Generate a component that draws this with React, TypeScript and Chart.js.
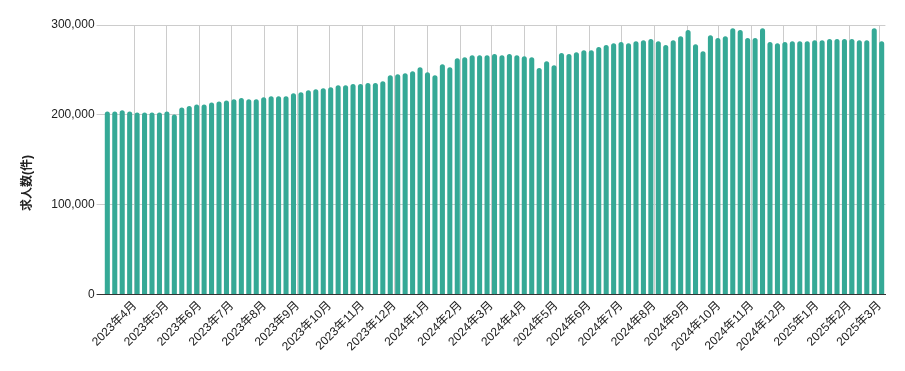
import React, { useEffect, useRef } from 'react';
import { Chart, registerables } from 'chart.js';

Chart.register(...registerables);

// First weekly observation (a Monday); one bar per week.
const START_YEAR = 2023;
const START_MONTH = 3;
const START_DAY = 6;
const WEEK_DAYS = 7;

// Weekly job-posting counts (件).
const jobCounts: number[] = [
  203700, 203700, 205200, 203700, 202600, 202600, 202600, 202600, 203700, 200400,
  208200, 209700, 211500, 211500, 213700, 214800, 216000, 217400, 218600, 217400,
  217400, 219700, 220800, 220800, 220800, 224100, 225200, 227500, 228600, 229700,
  230800, 233000, 233000, 234200, 234200, 235300, 235300, 237500, 244200, 245300,
  246400, 248600, 253100, 247500, 244200, 256400, 253100, 263100, 264200, 266400,
  266400, 266400, 267600, 266400, 267600, 266400, 265300, 264200, 252000, 259700,
  255300, 268700, 267600, 269800, 272000, 272000, 275400, 277600, 279800, 281000,
  279800, 282000, 283100, 284300, 282000, 277600, 283100, 287600, 294300, 278700,
  270900, 288700, 285400, 287600, 296500, 294300, 285400, 285400, 296500, 281000,
  279800, 281000, 282000, 282000, 282000, 283100, 283100, 284300, 284300, 284300,
  284300, 283100, 283100, 296500, 282000,
];

// Month ticks on the x axis: [year, month]
const monthTicks: [number, number][] = [
  [2023, 4], [2023, 5], [2023, 6], [2023, 7], [2023, 8], [2023, 9],
  [2023, 10], [2023, 11], [2023, 12], [2024, 1], [2024, 2], [2024, 3],
  [2024, 4], [2024, 5], [2024, 6], [2024, 7], [2024, 8], [2024, 9],
  [2024, 10], [2024, 11], [2024, 12], [2025, 1], [2025, 2], [2025, 3],
];
const monthLabels: string[] = monthTicks.map(([y, m]) => `${y}年${m}月`);

const yTicks: number[] = [0, 100000, 200000, 300000];
const yMax = 300000;
const yTitle = '求人数(件)';

const BAR_COLOR = '#35a996';
const GRID_COLOR = '#cccccc';
const AXIS_COLOR = '#333333';
const TEXT_COLOR = '#222222';
const FONT_FAMILY = "'Liberation Sans', Arial, 'Noto Sans CJK JP', sans-serif";

const DAY_MS = 86400000;
const startMs = Date.UTC(START_YEAR, START_MONTH - 1, START_DAY);
const monthDays = monthTicks.map(([y, m]) => (Date.UTC(y, m - 1, 1) - startMs) / DAY_MS);
const points = jobCounts.map((v, i) => ({ x: i * WEEK_DAYS, y: v }));

const yTitlePlugin = {
  id: 'yTitleCentered',
  afterDraw(chart: any) {
    const ctx = chart.ctx;
    ctx.save();
    ctx.translate(28, chart.height / 2 - 2.5);
    ctx.rotate(-Math.PI / 2);
    ctx.font = `bold 12px ${FONT_FAMILY}`;
    ctx.fillStyle = TEXT_COLOR;
    ctx.textAlign = 'center';
    ctx.textBaseline = 'middle';
    ctx.fillText(yTitle, 0, 0);
    ctx.restore();
  },
};

export default function App() {
  const canvasRef = useRef<HTMLCanvasElement | null>(null);

  useEffect(() => {
    if (!canvasRef.current) return;
    const chart = new Chart(canvasRef.current, {
      type: 'bar',
      data: {
        datasets: [
          {
            data: points as any,
            backgroundColor: BAR_COLOR,
            borderRadius: { topLeft: 2.5, topRight: 2.5, bottomLeft: 0, bottomRight: 0 },
            borderSkipped: 'bottom',
            barPercentage: 0.68,
            categoryPercentage: 1,
          },
        ],
      },
      options: {
        animation: false,
        responsive: true,
        maintainAspectRatio: false,
        layout: { padding: { left: 18, right: 19.6, top: 25, bottom: 0 } },
        plugins: {
          legend: { display: false },
          tooltip: { enabled: false },
        },
        scales: {
          x: {
            type: 'linear',
            min: -WEEK_DAYS / 2,
            max: (jobCounts.length - 1) * WEEK_DAYS + WEEK_DAYS / 2,
            offset: false,
            afterBuildTicks: (s: any) => {
              s.ticks = monthDays.map((v) => ({ value: v }));
            },
            ticks: {
              autoSkip: false,
              maxRotation: 45,
              minRotation: 45,
              padding: 4,
              color: TEXT_COLOR,
              font: { family: FONT_FAMILY, size: 12 },
              callback: (_v: any, i: number) => monthLabels[i],
            },
            grid: { color: GRID_COLOR, drawTicks: false, offset: false },
            border: { display: true, color: AXIS_COLOR, width: 1 },
            afterFit: (s: any) => {
              s.height = 76.5;
            },
          },
          y: {
            min: 0,
            max: yMax,
            afterBuildTicks: (s: any) => {
              s.ticks = yTicks.map((v) => ({ value: v }));
            },
            ticks: {
              padding: 2,
              color: TEXT_COLOR,
              font: { family: FONT_FAMILY, size: 12 },
              callback: (v: any) => Number(v).toLocaleString('en-US'),
            },
            grid: {
              color: (c: any) => (c.tick && c.tick.value === 0 ? AXIS_COLOR : GRID_COLOR),
              tickLength: 7,
            },
            border: { display: false },
            afterFit: (s: any) => {
              s.width = 85.6;
            },
          },
        },
      } as any,
      plugins: [yTitlePlugin],
    });
    return () => chart.destroy();
  }, []);

  return (
    <div style={{ position: 'fixed', left: 0, top: 0, width: 905, height: 371, background: '#fff' }}>
      <canvas ref={canvasRef} />
    </div>
  );
}
